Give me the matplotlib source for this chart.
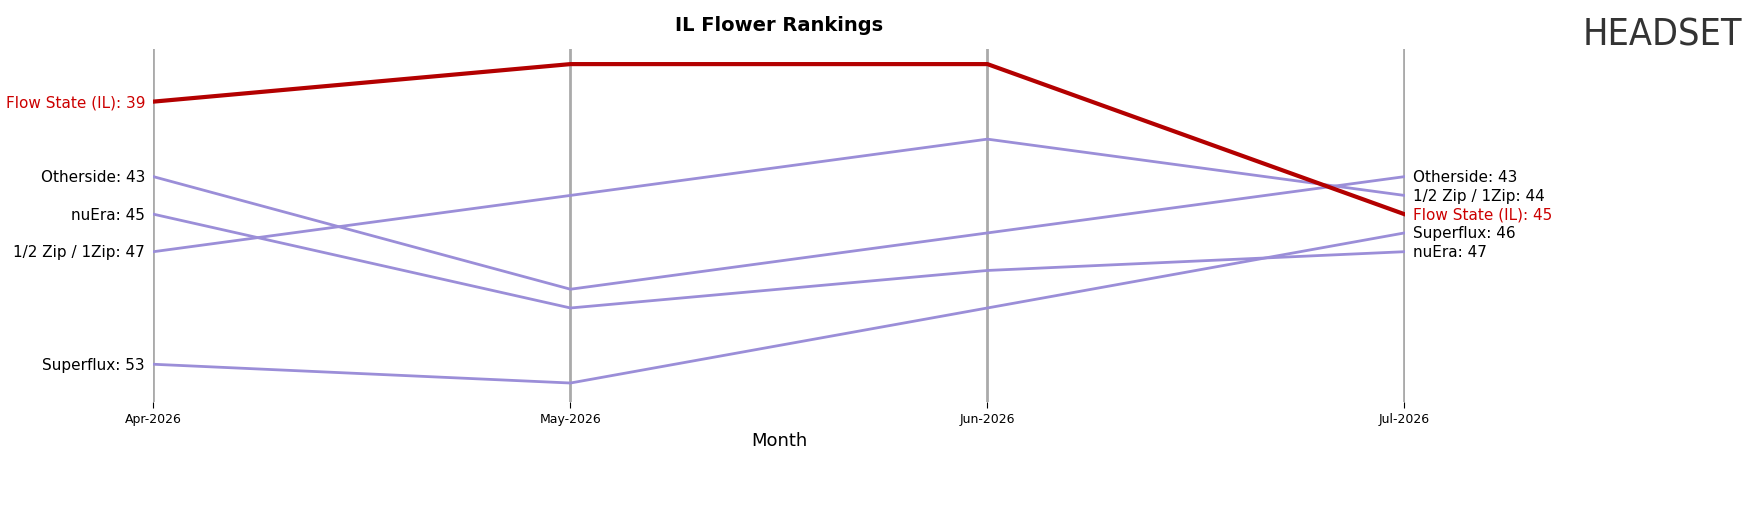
import matplotlib
matplotlib.use("Agg")
import matplotlib.pyplot as plt

months = ["Apr-2026", "May-2026", "Jun-2026", "Jul-2026"]
brands = ["Flow State (IL)", "Otherside", "nuEra", "1/2 Zip / 1Zip", "Superflux"]
flow_state = [39, 37, 37, 45]
otherside = [43, 49, 46, 43]
nuera = [45, 50, 48, 47]
zip_ = [47, 44, 41, 44]
superflux = [53, 54, 50, 46]
series = [flow_state, otherside, nuera, zip_, superflux]
highlight = "Flow State (IL)"

fig = plt.figure(figsize=(17.51, 5.06), dpi=100)
ax = fig.add_axes([0.0874, 0.204, 0.7149, 0.697])
x = list(range(len(months)))
for xi in x:
    ax.axvline(xi, color="#aaaaaa", lw=2, zorder=0)
for name, vals in zip(brands, series):
    if name == highlight:
        ax.plot(x, vals, color="#b30000", lw=3, zorder=3)
    else:
        ax.plot(x, vals, color="#9b8ed8", lw=2, zorder=2)

ax.set_ylim(55, 36.2)
ax.set_xlim(-0.001, 3.001)
ax.set_yticks([])
ax.set_xticks(x)
ax.set_xticklabels(months, fontsize=9)
ax.tick_params(axis="x", length=4)
for s in ax.spines.values():
    s.set_visible(False)
ax.set_xlabel("Month", fontsize=13)
ax.set_title("IL Flower Rankings", fontsize=14, fontweight="bold", pad=14)

# left labels
for name, vals in zip(brands, series):
    c = "#cc0000" if name == highlight else "black"
    ax.text(-0.02, vals[0], f"{name}: {vals[0]}", ha="right", va="center", fontsize=11, color=c)
# right labels (sorted by rank, stacked)
order = sorted(zip(brands, series), key=lambda t: (t[1][-1], t[0] != "Otherside"))
right_order = ["Otherside", "1/2 Zip / 1Zip", "Flow State (IL)", "Superflux", "nuEra"]
d = dict(zip(brands, series))
for i, name in enumerate(right_order):
    c = "#cc0000" if name == highlight else "black"
    ax.text(3.02, 43 + i, f"{name}: {d[name][-1]}", ha="left", va="center", fontsize=11, color=c)

fig.text(0.888, 0.93, "HEADSET", fontsize=26, color="#333333", ha="right", va="center", alpha=0)
fig.text(0.995, 0.93, "HEADSET", fontsize=27, color="#333333", ha="right", va="center", fontstretch="condensed")

fig.savefig("out.png", dpi=100)
